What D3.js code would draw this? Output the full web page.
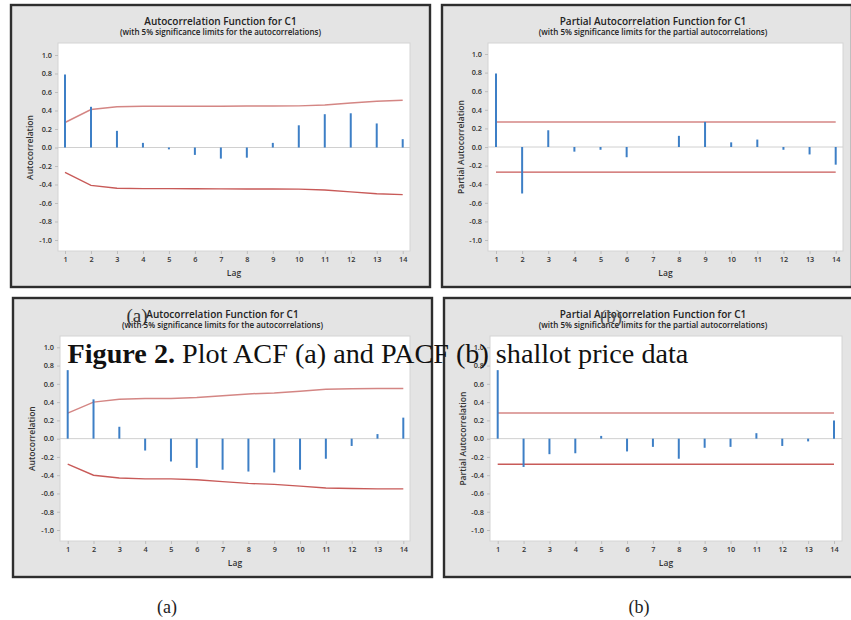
<!DOCTYPE html>
<html>
<head>
<meta charset="utf-8">
<script src="https://cdn.jsdelivr.net/npm/d3@7"></script>
<style>
  body { margin: 0; background: #fff; }
  svg { display: block; }
</style>
</head>
<body>
<div id="chart"></div>
<script>
// lags and tick labels
var lags = [1, 2, 3, 4, 5, 6, 7, 8, 9, 10, 11, 12, 13, 14];
var yTicks = [-1.0, -0.8, -0.6, -0.4, -0.2, 0.0, 0.2, 0.4, 0.6, 0.8, 1.0];

// (a) top: ACF values and upper limits
var acfTop = [0.79, 0.44, 0.18, 0.05, -0.02, -0.08, -0.12, -0.11, 0.05, 0.24, 0.36, 0.37, 0.26, 0.09];
var acfTopLimit = [0.27, 0.41, 0.44, 0.445, 0.445, 0.446, 0.447, 0.448, 0.449, 0.45, 0.46, 0.48, 0.50, 0.51];
// (b) top: PACF values, constant limit
var pacfTop = [0.79, -0.50, 0.18, -0.05, -0.03, -0.11, 0.0, 0.12, 0.27, 0.05, 0.08, -0.03, -0.08, -0.19];
var pacfTopLimit = 0.27;
// (a) bottom
var acfBottom = [0.75, 0.43, 0.13, -0.13, -0.25, -0.32, -0.34, -0.36, -0.37, -0.34, -0.22, -0.08, 0.05, 0.23];
var acfBottomLimit = [0.28, 0.40, 0.43, 0.44, 0.44, 0.45, 0.47, 0.49, 0.50, 0.52, 0.54, 0.545, 0.55, 0.55];
// (b) bottom
var pacfBottom = [0.75, -0.31, -0.17, -0.16, 0.03, -0.14, -0.09, -0.22, -0.10, -0.09, 0.06, -0.08, -0.03, 0.20];
var pacfBottomLimit = 0.28;

var acfTitle = "Autocorrelation Function for C1";
var acfSub = "(with 5% significance limits for the autocorrelations)";
var pacfTitle = "Partial Autocorrelation Function for C1";
var pacfSub = "(with 5% significance limits for the partial autocorrelations)";

var svgWidth = 851;
var svgHeight = 620;

var svg = d3.select("#chart")
  .append("svg")
  .attr("width", svgWidth)
  .attr("height", svgHeight);

var uiFont = "'Open Sans', 'Noto Sans', sans-serif";
var serifFont = "'Liberation Serif', 'DejaVu Serif', serif";

// one Minitab style panel
function drawPanel(p) {
  var g = svg.append("g");

  g.append("rect")
    .attr("x", p.frame[0]).attr("y", p.frame[1])
    .attr("width", p.frame[2] - p.frame[0]).attr("height", p.frame[3] - p.frame[1])
    .attr("fill", "#e4e4e4")
    .attr("stroke", "#2e2e2e")
    .attr("stroke-width", 2.4);

  g.append("rect")
    .attr("x", p.plot[0]).attr("y", p.plot[1])
    .attr("width", p.plot[2] - p.plot[0]).attr("height", p.plot[3] - p.plot[1])
    .attr("fill", "#fff")
    .attr("stroke", "#d4d4d4")
    .attr("stroke-width", 1);

  var x = d3.scaleLinear().domain([1, 14]).range(p.xr);
  var y = d3.scaleLinear().domain([-1, 1]).range(p.yr);

  var cx = (p.frame[0] + p.frame[2]) / 2 + (p.titleShift || 0);
  g.append("text")
    .attr("x", cx).attr("y", p.frame[1] + 19.5)
    .attr("text-anchor", "middle")
    .style("font-family", uiFont).style("font-size", "10px").style("font-weight", 600)
    .attr("fill", "#222")
    .text(p.title);
  g.append("text")
    .attr("x", cx).attr("y", p.frame[1] + 30)
    .attr("text-anchor", "middle")
    .style("font-family", uiFont).style("font-size", "8px").style("font-weight", 600)
    .attr("fill", "#222")
    .text(p.sub);

  // axes
  var yAxis = d3.axisLeft(y).tickValues(yTicks).tickSize(3).tickPadding(3)
    .tickFormat(function (d) { return d.toFixed(1); });
  var yg = g.append("g")
    .attr("transform", "translate(" + p.plot[0] + ",0)")
    .call(yAxis);

  var xAxis = d3.axisBottom(x).tickValues(lags).tickSize(3).tickPadding(3)
    .tickFormat(d3.format("d"));
  var xg = g.append("g")
    .attr("transform", "translate(0," + p.plot[3] + ")")
    .call(xAxis);

  [yg, xg].forEach(function (a) {
    a.select(".domain").remove();
    a.selectAll(".tick line").attr("stroke", "#bdbdbd");
    a.selectAll(".tick text")
      .style("font-family", uiFont).style("font-size", "7.3px").style("font-weight", 600)
      .attr("fill", "#333");
  });

  g.append("text")
    .attr("x", (p.plot[0] + p.plot[2]) / 2).attr("y", p.plot[3] + 25)
    .attr("text-anchor", "middle")
    .style("font-family", uiFont).style("font-size", "8.5px").style("font-weight", 600)
    .attr("fill", "#333")
    .text("Lag");

  g.append("text")
    .attr("transform", "translate(" + (p.frame[0] + 22) + "," + y(0) + ") rotate(-90)")
    .attr("text-anchor", "middle")
    .style("font-family", uiFont).style("font-size", "8.5px").style("font-weight", 600)
    .attr("fill", "#333")
    .text(p.ylabel);

  // zero line
  g.append("line")
    .attr("x1", p.plot[0]).attr("x2", p.plot[2])
    .attr("y1", y(0)).attr("y2", y(0))
    .attr("stroke", "#d0d0d0").attr("stroke-width", 1);

  // limits
  var lim = Array.isArray(p.limit) ? p.limit : lags.map(function () { return p.limit; });
  var line = d3.line()
    .x(function (d, i) { return x(lags[i]); })
    .y(function (d) { return y(d); });
  g.append("path")
    .datum(lim)
    .attr("d", line)
    .attr("fill", "none").attr("stroke", "#d48684").attr("stroke-width", 1.5);
  g.append("path")
    .datum(lim.map(function (d) { return -d; }))
    .attr("d", line)
    .attr("fill", "none").attr("stroke", "#c85a58").attr("stroke-width", 1.4);

  // bars
  g.selectAll(".bar")
    .data(p.values)
    .enter().append("line")
    .attr("class", "bar")
    .attr("x1", function (d, i) { return x(lags[i]); })
    .attr("x2", function (d, i) { return x(lags[i]); })
    .attr("y1", y(0))
    .attr("y2", function (d) { return y(d); })
    .attr("stroke", "#3d7fc6").attr("stroke-width", 2);
}

drawPanel({ frame: [11, 5, 430, 287], plot: [58, 43, 410, 251], xr: [65, 402.7], yr: [240, 55],
  title: acfTitle, sub: acfSub, ylabel: "Autocorrelation", values: acfTop, limit: acfTopLimit });
drawPanel({ frame: [442, 5, 852, 287], plot: [488, 43, 843, 251], xr: [496, 835.7], yr: [240, 54],
  title: pacfTitle, sub: pacfSub, ylabel: "Partial Autocorrelation", values: pacfTop, limit: pacfTopLimit, titleShift: 6 });
drawPanel({ frame: [13, 298, 432, 577], plot: [60, 336, 410, 541], xr: [67.7, 403.3], yr: [530, 347.3],
  title: acfTitle, sub: acfSub, ylabel: "Autocorrelation", values: acfBottom, limit: acfBottomLimit });
drawPanel({ frame: [444, 298, 854, 577], plot: [490, 336, 842, 541], xr: [497.7, 834], yr: [530, 347.3],
  title: pacfTitle, sub: pacfSub, ylabel: "Partial Autocorrelation", values: pacfBottom, limit: pacfBottomLimit, titleShift: 4 });

// overlaid sub labels and caption
function label(txt, x, y, size, col) {
  svg.append("text")
    .attr("x", x).attr("y", y)
    .attr("text-anchor", "middle")
    .style("font-family", serifFont).style("font-size", size + "px")
    .attr("fill", col || "#222")
    .text(txt);
}
label("(a)", 137, 322, 19, "#333");
label("(b)", 611, 323, 19, "#555");
label("(a)", 167, 613, 18);
label("(b)", 639, 613, 18);

var caption = svg.append("text")
  .attr("x", 67.5).attr("y", 362.5)
  .style("font-family", serifFont).style("font-size", "24px")
  .attr("fill", "#111");
caption.append("tspan").style("font-weight", "bold").text("Figure 2.");
caption.append("tspan").text(" Plot ACF (a) and PACF (b) shallot price data");

// fit caption width to the picture
var w = caption.node().getComputedTextLength();
var fs = 24 * 622 / w;
caption.style("font-size", fs.toFixed(1) + "px");
</script>
</body>
</html>
